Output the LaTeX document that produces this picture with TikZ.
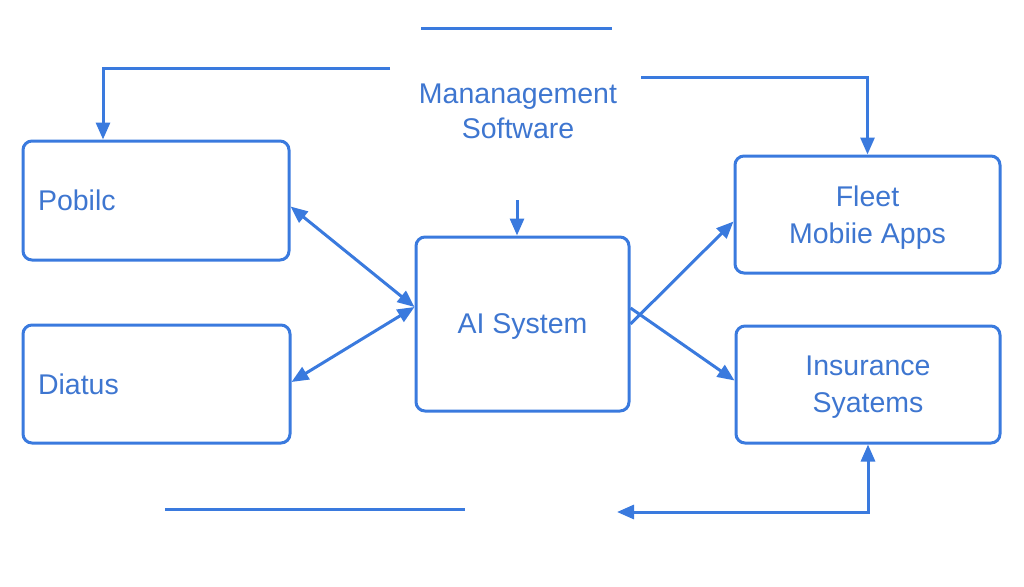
\documentclass[tikz,border=0pt]{standalone}
\usepackage{fontspec}
\setmainfont{Liberation Sans}
\usetikzlibrary{arrows.meta}
\definecolor{flowblue}{RGB}{58, 122, 222}
\definecolor{labelblue}{RGB}{62, 118, 208}

\begin{document}
\begin{tikzpicture}[x=1pt, y=-1pt, line width=3pt, draw=flowblue,
  font=\fontsize{28.5}{37}\selectfont,
  box/.style={draw=flowblue, rounded corners=9pt, text=labelblue, align=center, inner sep=0pt, text depth=0pt},
  tip/.style={-{Triangle[length=17pt, width=14pt]}},
  tips/.style={{Triangle[length=17pt, width=14pt]}-{Triangle[length=17pt, width=14pt]}}]
\useasboundingbox (0,0) rectangle (1024,586);
% boxes
\node[box, text width=236pt, align=left, inner xsep=15pt, minimum height=119pt] (pobilc) at (156,200.5) {Pobilc};
\node[box, text width=237pt, align=left, inner xsep=15pt, minimum height=118pt] (diatus) at (156.5,384) {Diatus};
\node[box, minimum width=213pt, minimum height=174pt] (ai) at (522.5,324) {AI System};
\node[box, minimum width=265pt, minimum height=117pt] (fleet) at (867.5,214.5) {Fleet\\Mobiie Apps};
\node[box, minimum width=264pt, minimum height=117pt] (insurance) at (868,384.5) {Insurance\\Syatems};
\node[text=labelblue, align=center, font=\fontsize{28.5}{35}\selectfont] (mgmt) at (518,111) {Mananagement\\Software};
% loose ends
\coordinate (topl) at (421,29);
\coordinate (topr) at (612,29);
\coordinate (mgl) at (390,68);
\coordinate (mgr) at (641,77);
\coordinate (aiin) at (517,200);
\coordinate (botl) at (165,509);
\coordinate (botr) at (465,509);
\coordinate (bot) at (617,512);
% connectors
\draw (topl) -- (topr);
\draw[tip] (mgl) -| ([xshift=-53pt]pobilc.north);
\draw[tip] (mgr) -| (fleet.north);
\draw[tip] (aiin) -- (aiin |- ai.north);
\draw[tips] ([yshift=17pt]ai.west) -- ([yshift=-6pt]pobilc.east);
\draw[tips] ([yshift=17pt]ai.west) -- ([yshift=2pt]diatus.east);
\draw[tip] (ai.east) -- ([yshift=-7pt]fleet.west);
\draw[tip] ([yshift=16pt]ai.east) -- ([yshift=4pt]insurance.west);
\draw (botl) -- (botr);
\draw[tips] (insurance.south) |- (bot);
\end{tikzpicture}
\end{document}
